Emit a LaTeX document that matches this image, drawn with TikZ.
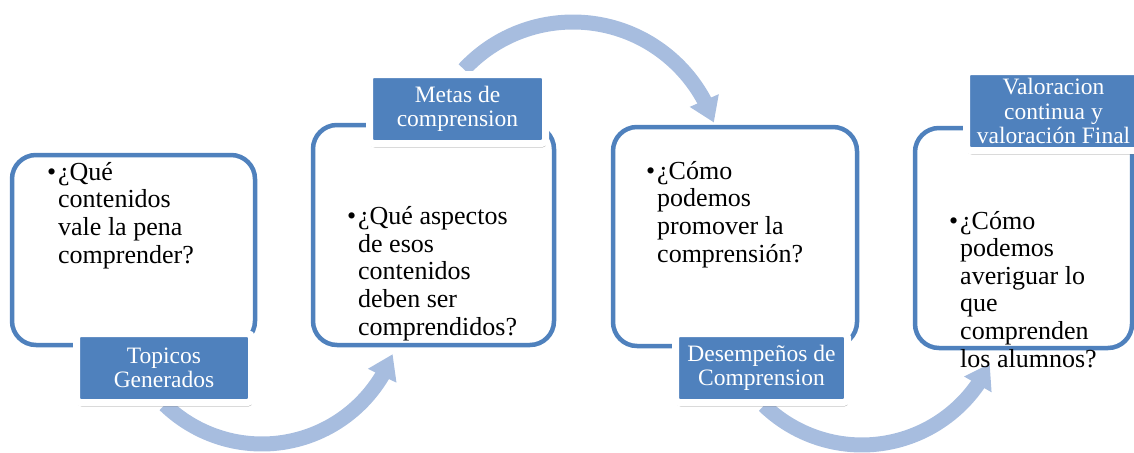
\documentclass[tikz,border=0pt]{standalone}
\usepackage{fontspec}
\setmainfont{Liberation Serif}
\usetikzlibrary{arrows.meta,bending,shadows}
\definecolor{boxblue}{RGB}{79,129,189}
\definecolor{arcblue}{RGB}{167,189,223}
\begin{document}
\begin{tikzpicture}[x=1pt,y=-1pt,
  qbox/.style={draw=boxblue, line width=4.5pt, rounded corners=24pt, fill=white, inner sep=0pt},
  lbl/.style={fill=boxblue, draw=white, line width=7pt, rounded corners=4pt, text=white,
    align=center, inner sep=0pt, font=\fontsize{23.5}{24.5}\selectfont,
    drop shadow={shadow xshift=1pt, shadow yshift=-4pt, opacity=0.25, fill=black}},
  qtext/.style={anchor=base west, align=left, inner sep=0pt, font=\fontsize{26}{27.6}\selectfont},
  flow/.style={draw=arcblue, line width=15pt, -{Triangle[width=30pt,length=24pt]}}]
\useasboundingbox (0,0) rectangle (1134,452);
\clip (0,0) rectangle (1134,452);
% arrow start points
\coordinate (a1) at (164.7,404.7);
\coordinate (a2) at (464,69.4);
\coordinate (a3) at (764,405.4);
\draw[flow] (a1) arc[start angle=134, end angle=21, radius=140];
\draw[flow] (a2) arc[start angle=-137, end angle=-19, radius=149];
\draw[flow] (a3) arc[start angle=134, end angle=25, radius=141];
% boxes
\node[qbox, minimum width=243pt, minimum height=190pt] (b1) at (133.5,250) {};
\node[qbox, minimum width=241pt, minimum height=220pt] (b2) at (433.5,235) {};
\node[qbox, minimum width=244pt, minimum height=219pt] (b3) at (735,236.5) {};
\node[qbox, minimum width=217pt, minimum height=220pt] (b4) at (1023.5,238) {};
% texts (anchored at baseline of last line)
\node[qtext] (t1) at (58,263) {\llap{\textbullet\hspace{2pt}}¿Qué\\contenidos\\vale la pena\\comprender?};
\node[qtext] (t2) at (358,335) {\llap{\textbullet\hspace{2pt}}¿Qué aspectos\\de esos\\contenidos\\deben ser\\comprendidos?};
\node[qtext] (t3) at (657,262) {\llap{\textbullet\hspace{2pt}}¿Cómo\\podemos\\promover la\\comprensión?};
\node[qtext] (t4) at (960,367) {\llap{\textbullet\hspace{2pt}}¿Cómo\\podemos\\averiguar lo\\que\\comprenden\\los alumnos?};
% labels
\node[lbl, minimum width=175pt, minimum height=69pt] (l1) at (164,368) {Topicos\\Generados};
\node[lbl, minimum width=176pt, minimum height=69pt] (l2) at (457.5,109) {Metas de\\comprension};
\node[lbl, minimum width=172pt, minimum height=69pt] (l3) at (761.5,368) {Desempeños de\\Comprension};
\node[lbl, minimum width=174pt, minimum height=79pt] (l4) at (1053.5,111) {Valoracion\\continua y\\valoración Final};
\end{tikzpicture}
\end{document}
